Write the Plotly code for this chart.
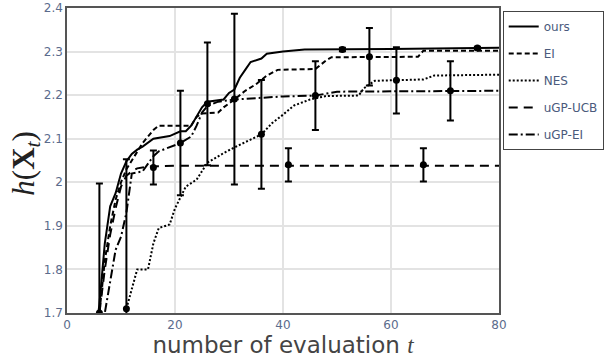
import plotly.graph_objects as go

# ---------------- data ----------------
ours_t = [1, 5, 6, 7, 8, 9, 10, 11, 12, 13, 14, 16, 19, 21, 22, 23, 25, 26, 29, 30, 31, 32, 33, 34, 36, 37, 40, 44, 60, 80]
ours_y = [1.40, 1.62, 1.72, 1.86, 1.945, 1.975, 2.02, 2.048, 2.065, 2.075, 2.082, 2.10, 2.106, 2.117, 2.117, 2.13, 2.172,
          2.185, 2.19, 2.205, 2.213, 2.24, 2.258, 2.276, 2.284, 2.295, 2.300, 2.305, 2.306, 2.309]

ei_t = [1, 5, 6, 7, 8, 9, 10, 11, 12, 13, 14, 15, 16, 17, 23, 24, 25, 28, 29, 31, 33, 35, 37, 39, 46, 48, 49, 65, 66, 80]
ei_y = [1.40, 1.60, 1.70, 1.82, 1.90, 1.96, 2.00, 2.03, 2.05, 2.07, 2.09, 2.105, 2.12, 2.13, 2.13, 2.15, 2.158, 2.16,
        2.172, 2.19, 2.21, 2.225, 2.245, 2.258, 2.26, 2.28, 2.287, 2.288, 2.302, 2.302]

nes_t = [11, 13, 15, 16, 17, 19, 20, 22, 24, 26, 29, 31, 36, 38, 40, 42, 45, 48, 54, 55, 57, 66, 68, 80]
nes_y = [1.71, 1.80, 1.80, 1.86, 1.895, 1.903, 1.94, 1.99, 2.006, 2.045, 2.067, 2.08, 2.11, 2.136, 2.155, 2.176, 2.19,
         2.198, 2.199, 2.216, 2.233, 2.236, 2.245, 2.247]

ucb_t = [1, 5, 6, 7, 8, 9, 10, 11, 12, 13, 15, 20, 80]
ucb_y = [1.40, 1.62, 1.70, 1.80, 1.88, 1.94, 1.99, 2.015, 2.025, 2.032, 2.036, 2.038, 2.038]

uei_t = [1, 6, 7, 9, 10, 11, 12, 14, 16, 17, 21, 23, 24, 25, 26, 28, 31, 40, 46, 50, 80]
uei_y = [1.40, 1.62, 1.70, 1.845, 1.875, 1.93, 2.02, 2.025, 2.06, 2.071, 2.09, 2.105, 2.13, 2.16, 2.175, 2.185, 2.19,
         2.197, 2.199, 2.208, 2.21]

# error-bar points (mean, std)
ours_et = [1, 26, 51, 76]
ours_em = [1.40, 2.180, 2.305, 2.308]
ours_es = [0.10, 0.141, 0.004, 0.003]

ei_et = [6, 31, 56]
ei_em = [1.70, 2.191, 2.288]
ei_es = [0.297, 0.196, 0.066]

nes_et = [11, 36, 61]
nes_em = [1.71, 2.110, 2.234]
nes_es = [0.343, 0.125, 0.076]

ucb_et = [16, 41, 66]
ucb_em = [2.034, 2.040, 2.040]
ucb_es = [0.039, 0.038, 0.038]

uei_et = [21, 46, 71]
uei_em = [2.090, 2.199, 2.210]
uei_es = [0.12, 0.079, 0.068]

names = ["ours", "EI", "NES", "uGP-UCB", "uGP-EI"]
x_ticks = [0, 20, 40, 60, 80]

# ---------------- figure ----------------
series = [
    (ours_t, ours_y, ours_et, ours_em, ours_es, "solid"),
    (ei_t, ei_y, ei_et, ei_em, ei_es, "5px,3px"),
    (nes_t, nes_y, nes_et, nes_em, nes_es, "2px,2px"),
    (ucb_t, ucb_y, ucb_et, ucb_em, ucb_es, "9px,6px"),
    (uei_t, uei_y, uei_et, uei_em, uei_es, "9px,3px,2px,3px"),
]

fig = go.Figure()
for name, (lt, ly, et, em, es, dash) in zip(names, series):
    fig.add_trace(go.Scatter(
        x=lt, y=ly, mode="lines", name=name, legendgroup=name,
        line=dict(color="black", width=2, dash=dash),
    ))
    fig.add_trace(go.Scatter(
        x=et, y=em, mode="markers", showlegend=False, legendgroup=name,
        marker=dict(color="black", size=7, symbol="circle"),
        error_y=dict(type="data", array=es, visible=True, color="black", thickness=2, width=3.5),
    ))

tick_font = dict(family="DejaVu Sans, sans-serif", size=12, color="#5b6b8c")

fig.update_layout(
    width=609, height=358,
    margin=dict(l=67, r=110, t=8, b=45, autoexpand=False),
    paper_bgcolor="white", plot_bgcolor="white",
    showlegend=True,
    legend=dict(
        x=1.0086, y=0.99, xanchor="left", yanchor="top",
        bordercolor="#444", borderwidth=1,
        font=dict(family="DejaVu Sans, sans-serif", size=12, color="#4a5a7c"),
        tracegroupgap=8, traceorder="grouped",
    ),
    xaxis=dict(
        range=[0, 80], tickvals=x_ticks, tickfont=tick_font,
        showgrid=True, gridcolor="#e3e3e3", gridwidth=1.5,
        showline=True, linecolor="#555", linewidth=1.5, mirror=True,
        zeroline=False, ticks="", automargin=False,
        title=dict(
            text='number of evaluation <span style="font-family:Liberation Serif, serif"><i>t</i></span>',
            font=dict(family="DejaVu Sans, sans-serif", size=23, color="#444"),
            standoff=4,
        ),
    ),
    yaxis=dict(
        range=[1.7, 2.4], dtick=0.1, tick0=1.7, tickfont=tick_font,
        showgrid=True, gridcolor="#e3e3e3", gridwidth=1.5,
        showline=True, linecolor="#555", linewidth=1.5, mirror=True,
        zeroline=False, ticks="", automargin=False,
    ),
    annotations=[dict(
        text="<i>h</i>(<b>X</b><sub><i>t</i></sub>)",
        xref="paper", yref="paper", x=-0.097, y=0.49,
        xanchor="center", yanchor="middle", textangle=-90, showarrow=False,
        font=dict(family="Liberation Serif, serif", size=31, color="#222"),
    )],
)

fig.write_html("out.html", config={"displayModeBar": False},
               post_script="document.body.style.margin='0';")
